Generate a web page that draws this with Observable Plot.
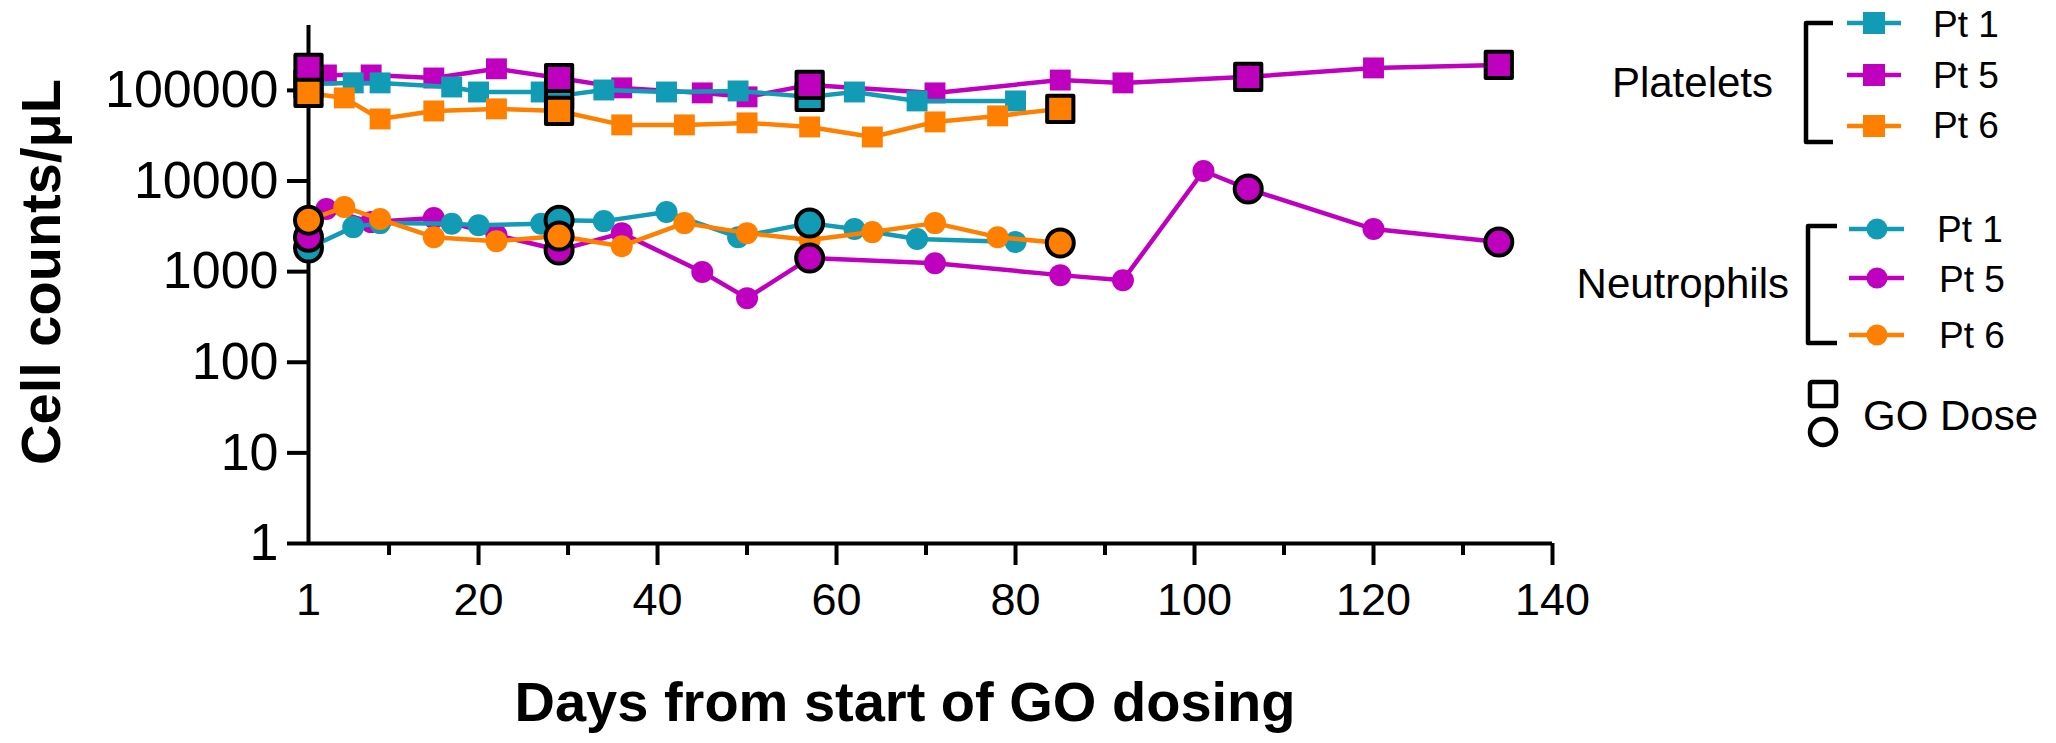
<!DOCTYPE html>
<html>
<head>
<meta charset="utf-8">
<script src="https://cdn.jsdelivr.net/npm/d3@7"></script>
<script src="https://cdn.jsdelivr.net/npm/@observablehq/plot@0.6"></script>
<style>
  html, body { margin: 0; padding: 0; background: #fff; }
  svg { display: block; }
</style>
</head>
<body>
<div id="chart"></div>
<script>
// ---------- data ----------
const patients = ["Pt 1", "Pt 5", "Pt 6"];
const colors = ["#129bb4", "#bf00bf", "#ff8000"];

// Platelets (cells/µL)
const pltPt1Days = [1, 6, 9, 17, 20, 27, 29, 34, 41, 49, 57, 62, 69, 80];
const pltPt1Vals = [118000, 121000, 121000, 109000, 96000, 96000, 87000, 101000, 96000, 98600, 84800, 96000, 76500, 76500];
const pltPt5Days = [1, 3, 8, 15, 22, 29, 36, 45, 50, 57, 71, 85, 92, 106, 120, 134];
const pltPt5Vals = [177000, 148000, 148000, 137000, 173000, 137000, 106600, 93800, 84800, 115000, 93800, 130000, 121000, 141000, 177000, 191000];
const pltPt6Days = [1, 5, 9, 15, 22, 29, 36, 43, 50, 57, 64, 71, 78, 85];
const pltPt6Vals = [93800, 82600, 48400, 59300, 62500, 59300, 41600, 41600, 43800, 39500, 30600, 44900, 52300, 62500];

// Neutrophils (cells/µL)
const neuPt1Days = [1, 6, 9, 17, 20, 27, 29, 34, 41, 49, 57, 62, 69, 80];
const neuPt1Vals = [1820, 3100, 3430, 3370, 3250, 3370, 3700, 3610, 4540, 2400, 3430, 2950, 2290, 2120];
const neuPt5Days = [1, 3, 8, 15, 22, 29, 36, 45, 50, 57, 71, 85, 92, 101, 106, 120, 134];
const neuPt5Vals = [2400, 4900, 3520, 3900, 2530, 1730, 2660, 990, 510, 1410, 1240, 915, 805, 12900, 8170, 2950, 2120];
const neuPt6Days = [1, 5, 9, 15, 22, 29, 36, 43, 50, 57, 64, 71, 78, 85];
const neuPt6Vals = [3700, 5160, 3800, 2400, 2170, 2470, 1910, 3430, 2660, 2230, 2730, 3430, 2400, 2070];

// GO dose days
const dosePt1 = [1, 29, 57];
const dosePt5 = [1, 29, 57, 106, 134];
const dosePt6 = [1, 29, 85];

// axis ticks
const yTicks = [1, 10, 100, 1000, 10000, 100000];
const xMajor = [20, 40, 60, 80, 100, 120, 140];
const xMinor = [10, 30, 50, 70, 90, 110, 130];

// ---------- build tables ----------
function rows(days, vals, patient, cell, doses) {
  return days.map((d, i) => ({day: d, value: vals[i], patient, cell, dose: doses.includes(d)}));
}
const series = [
  {patient: "Pt 1", color: colors[0], plt: rows(pltPt1Days, pltPt1Vals, "Pt 1", "Platelets", dosePt1), neu: rows(neuPt1Days, neuPt1Vals, "Pt 1", "Neutrophils", dosePt1)},
  {patient: "Pt 5", color: colors[1], plt: rows(pltPt5Days, pltPt5Vals, "Pt 5", "Platelets", dosePt5), neu: rows(neuPt5Days, neuPt5Vals, "Pt 5", "Neutrophils", dosePt5)},
  {patient: "Pt 6", color: colors[2], plt: rows(pltPt6Days, pltPt6Vals, "Pt 6", "Platelets", dosePt6), neu: rows(neuPt6Days, neuPt6Vals, "Pt 6", "Neutrophils", dosePt6)}
];
const drawOrder = [series[1], series[0], series[2]];
const doseOrder = [series[0], series[1], series[2]];

const marks = [];
for (const s of drawOrder) {
  marks.push(Plot.line(s.plt, {x: "day", y: "value", stroke: s.color, strokeWidth: 4.5}));
  marks.push(Plot.dot(s.plt, {x: "day", y: "value", symbol: "square", r: 11.8, fill: s.color}));
  marks.push(Plot.line(s.neu, {x: "day", y: "value", stroke: s.color, strokeWidth: 4.5}));
  marks.push(Plot.dot(s.neu, {x: "day", y: "value", symbol: "circle", r: 11, fill: s.color}));
}
for (const s of doseOrder) {
  marks.push(Plot.dot(s.plt.filter(d => d.dose), {x: "day", y: "value", symbol: "square", r: 14.8, fill: s.color, stroke: "#000", strokeWidth: 4, strokeLinejoin: "round"}));
}
for (const s of doseOrder) {
  marks.push(Plot.dot(s.neu.filter(d => d.dose), {x: "day", y: "value", symbol: "circle", r: 13.5, fill: s.color, stroke: "#000", strokeWidth: 4}));
}

const chart = Plot.plot({
  width: 2056,
  height: 743,
  marginLeft: 308,
  marginRight: 504,
  marginTop: 25,
  marginBottom: 200,
  style: {fontFamily: "'Liberation Sans', Arial, sans-serif", background: "#fff", color: "#000", overflow: "visible"},
  x: {domain: [1, 140]},
  y: {type: "log", domain: [1, 520000]},
  marks: [
    Plot.axisY({ticks: yTicks, tickFormat: d => String(d), tickSize: 21, tickPadding: 9, fontSize: 52, strokeWidth: 4, label: null}),
    Plot.axisX({ticks: xMajor, tickFormat: d => String(d), tickSize: 22, tickPadding: 18, fontSize: 45, strokeWidth: 4, label: null}),
    Plot.axisX({ticks: xMinor, tickFormat: () => "", tickSize: 12, strokeWidth: 4, label: null}),
    Plot.axisX({ticks: [1], tickFormat: d => String(d), tickSize: 0, tickPadding: 40, fontSize: 45, label: null}),
    Plot.ruleX([1], {y1: 1, y2: 520000, strokeWidth: 4}),
    Plot.ruleY([1], {x1: 1, x2: 140, strokeWidth: 4}),
    ...marks
  ]
});

const svg = d3.select(chart);
const font = "'Liberation Sans', Arial, sans-serif";

// axis titles
svg.append("text")
  .attr("transform", "translate(60,272) rotate(-90)")
  .attr("text-anchor", "middle")
  .attr("font-family", font).attr("font-weight", "bold").attr("font-size", 56)
  .text("Cell counts/μL");
svg.append("text")
  .attr("x", 905).attr("y", 721)
  .attr("text-anchor", "middle")
  .attr("font-family", font).attr("font-weight", "bold").attr("font-size", 56)
  .text("Days from start of GO dosing");

// ---------- legend ----------
const lg = svg.append("g").attr("font-family", font).attr("fill", "#000").attr("text-anchor", "start");
function bracket(x, xr, y1, y2) {
  lg.append("path").attr("d", `M${xr},${y1}H${x}V${y2}H${xr}`)
    .attr("fill", "none").attr("stroke", "#000").attr("stroke-width", 4.5).attr("stroke-linejoin", "round");
}
lg.append("text").attr("x", 1773).attr("y", 97).attr("text-anchor", "end").attr("font-size", 42).text("Platelets");
bracket(1806, 1833, 23, 142);
const pltY = [23, 75, 126], pltLabY = [37, 88, 138];
series.forEach((s, i) => {
  lg.append("line").attr("x1", 1847).attr("x2", 1901).attr("y1", pltY[i]).attr("y2", pltY[i]).attr("stroke", s.color).attr("stroke-width", 4.5);
  lg.append("rect").attr("x", 1874 - 11).attr("y", pltY[i] - 11).attr("width", 22).attr("height", 22).attr("fill", s.color);
  lg.append("text").attr("x", 1933).attr("y", pltLabY[i]).attr("text-anchor", "start").attr("font-size", 37).text(s.patient);
});
lg.append("text").attr("x", 1789).attr("y", 298).attr("text-anchor", "end").attr("font-size", 42).text("Neutrophils");
bracket(1808, 1837, 226, 343);
const neuY = [229, 278, 335], neuLabY = [242, 292, 348], neuLabX = [1937, 1939, 1939];
series.forEach((s, i) => {
  lg.append("line").attr("x1", 1849).attr("x2", 1904).attr("y1", neuY[i]).attr("y2", neuY[i]).attr("stroke", s.color).attr("stroke-width", 4.5);
  lg.append("circle").attr("cx", 1877).attr("cy", neuY[i]).attr("r", 10.5).attr("fill", s.color);
  lg.append("text").attr("x", neuLabX[i]).attr("y", neuLabY[i]).attr("text-anchor", "start").attr("font-size", 37).text(s.patient);
});
lg.append("rect").attr("x", 1810).attr("y", 382).attr("width", 26).attr("height", 24).attr("rx", 2)
  .attr("fill", "none").attr("stroke", "#000").attr("stroke-width", 4.5);
lg.append("circle").attr("cx", 1823).attr("cy", 432).attr("r", 13)
  .attr("fill", "none").attr("stroke", "#000").attr("stroke-width", 4.5);
lg.append("text").attr("x", 1863).attr("y", 430).attr("text-anchor", "start").attr("font-size", 42).text("GO Dose");

document.getElementById("chart").appendChild(chart);
</script>
</body>
</html>
